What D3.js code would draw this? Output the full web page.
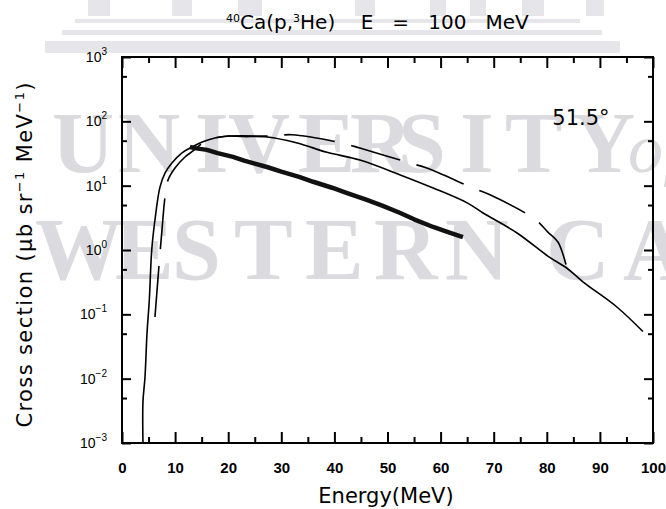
<!DOCTYPE html>
<html><head><meta charset="utf-8">
<script src="https://cdn.jsdelivr.net/npm/d3@7"></script>
<style>body{margin:0;background:#fff}svg{display:block}</style>
</head><body>
<svg id="chart" width="666" height="509"></svg>
<script>
// ---------- data ----------
const xTicks = [0, 10, 20, 30, 40, 50, 60, 70, 80, 90, 100];
const xMinorTicks = [5, 15, 25, 35, 45, 55, 65, 75, 85, 95];
const yTicks = [1e-3, 1e-2, 1e-1, 1e0, 1e1, 1e2, 1e3];
const yTickExponents = ["−3", "−2", "−1", "0", "1", "2", "3"];
const yMinorTicks = [5e-3, 5e-2, 5e-1, 5, 50, 500];

// solid theoretical curve
const solidEnergy = [3.95, 3.95, 4.33, 4.71, 5.14, 5.6, 6.2, 7.15, 8.1, 9.4, 11.3, 13.2, 15.1, 17.5, 20, 22.8, 27.3, 33, 38.6, 44.8, 52.4, 58.6, 65, 68, 74.4, 80.4, 83.8, 86.8, 93.2, 98.1];
const solidCross  = [0.001, 0.0044, 0.0105, 0.051, 0.166, 1.0, 2.9, 9.5, 15.7, 22.5, 32.4, 40, 47.6, 55, 59, 58, 57, 46, 33, 25, 14.7, 9.2, 5.4, 3.76, 1.84, 0.78, 0.52, 0.32, 0.13, 0.054];

// dashed theoretical curve
const dashedEnergy = [6.21, 6.97, 7.53, 8.1, 8.66, 9.98, 11.86, 13.37, 16, 20.3, 28.4, 32, 41.4, 44.8, 54.2, 57.4, 66.1, 69.3, 77.8, 80.2, 82.1, 83.8];
const dashedCross  = [0.091, 0.58, 2.05, 6.7, 12.2, 18.8, 27.9, 34.6, 51, 59, 59, 62, 46, 38.5, 22.5, 18.8, 9.2, 7.2, 3.0, 1.9, 1.33, 0.52];

// experimental data
const dataEnergy = [12.8, 14, 16, 18, 20.9, 23, 25, 27.3, 30, 33.5, 36, 39.7, 42, 46.1, 49, 52.4, 55, 58.6, 61, 64.2];
const dataCross  = [40, 38, 36, 32, 28, 24.5, 22, 19.5, 16.5, 13.6, 11.5, 9.2, 7.9, 6.0, 4.9, 3.76, 3.0, 2.28, 1.95, 1.59];

// ---------- drawing ----------
const svg = d3.select("#chart");
const m = {l: 122, r: 653, t: 57, b: 443};
const x = d3.scaleLinear().domain([0, 100]).range([m.l, m.r]);
const y = d3.scaleLog().domain([1e-3, 1e3]).range([m.b, m.t]);

// faint watermark background (scan artefact)
const wm = svg.append("g").attr("fill", "#e6e6ea");
[[45,41,575,12],[62,30,540,5],[75,19,505,4],[88,0,22,16],[172,0,20,16],[238,0,24,16],[355,0,20,16],[430,0,16,16],[470,0,16,16],[522,0,22,16],[586,0,18,16]]
  .forEach(r => wm.append("rect").attr("x", r[0]).attr("y", r[1]).attr("width", r[2]).attr("height", r[3]));
const wmText = svg.append("g").attr("fill", "#dadadf")
  .style("font-family", "'Liberation Serif', serif").style("font-weight", "bold");
wmText.append("text").attr("x", [52,118,195,228,298,350,398,460,505,573].join(" ")).attr("y", 172)
  .style("font-size", "86px").text("UNIVERSITY");
wmText.append("text").attr("x", 628).attr("y", 172).style("font-size", "70px")
  .style("font-style", "italic").style("font-weight", "normal").text("of");
wmText.append("text").attr("x", [35,115,172,234,305,374,445,530,546,623].join(" ")).attr("y", 279)
  .style("font-size", "88px").text("WESTERN CA");

// axes
function styleAxis(g) {
  g.select(".domain").remove();
  g.selectAll(".tick line").attr("stroke", "#000").attr("stroke-width", 2);
}
svg.append("g").attr("transform", `translate(0,${m.b})`)
  .call(d3.axisBottom(x).tickValues(xTicks).tickSize(-11).tickPadding(19).tickFormat(d3.format("d")))
  .call(styleAxis)
  .call(g => g.selectAll("text").attr("fill", "#000")
    .style("font-family", "'Liberation Sans', Arial, sans-serif").style("font-size", "15px").style("font-weight", "bold"));
svg.append("g").attr("transform", `translate(0,${m.b})`)
  .call(d3.axisBottom(x).tickValues(xMinorTicks).tickSize(-6).tickFormat(""))
  .call(styleAxis);
svg.append("g").attr("transform", `translate(0,${m.t})`)
  .call(d3.axisTop(x).tickValues(xTicks).tickSize(-11).tickFormat(""))
  .call(styleAxis);
svg.append("g").attr("transform", `translate(0,${m.t})`)
  .call(d3.axisTop(x).tickValues(xMinorTicks).tickSize(-6).tickFormat(""))
  .call(styleAxis);
svg.append("g").attr("transform", `translate(${m.l},0)`)
  .call(d3.axisLeft(y).tickValues(yTicks).tickSize(-9).tickFormat(""))
  .call(styleAxis);
svg.append("g").attr("transform", `translate(${m.l},0)`)
  .call(d3.axisLeft(y).tickValues(yMinorTicks).tickSize(-5).tickFormat(""))
  .call(styleAxis);
svg.append("g").attr("transform", `translate(${m.r},0)`)
  .call(d3.axisRight(y).tickValues(yTicks).tickSize(-9).tickFormat(""))
  .call(styleAxis);
svg.append("g").attr("transform", `translate(${m.r},0)`)
  .call(d3.axisRight(y).tickValues(yMinorTicks).tickSize(-5).tickFormat(""))
  .call(styleAxis);

// y tick labels 10^n
const yl = svg.append("g").style("font-family", "'Liberation Sans', Arial, sans-serif").attr("fill", "#000");
yTicks.forEach((v, i) => {
  const t = yl.append("text").attr("text-anchor", "end").attr("x", 107).attr("y", y(v) + 5).style("font-size", "14px");
  t.append("tspan").text("10");
  t.append("tspan").attr("dy", -7).style("font-size", "10px").text(yTickExponents[i]);
});

// frame
svg.append("rect").attr("x", m.l).attr("y", m.t).attr("width", m.r - m.l).attr("height", m.b - m.t)
  .attr("fill", "none").attr("stroke", "#000").attr("stroke-width", 2);

// curves
const line = d3.line().x(d => x(d[0])).y(d => y(d[1])).curve(d3.curveCatmullRom.alpha(0.5));
svg.append("path").datum(d3.zip(solidEnergy, solidCross)).attr("d", line)
  .attr("fill", "none").attr("stroke", "#000").attr("stroke-width", 1.6);
svg.append("path").datum(d3.zip(dashedEnergy, dashedCross)).attr("d", line)
  .attr("fill", "none").attr("stroke", "#000").attr("stroke-width", 1.6).attr("stroke-dasharray", "51,17");
svg.append("path").datum(d3.zip(dataEnergy, dataCross))
  .attr("d", d3.line().x(d => x(d[0])).y(d => y(d[1])))
  .attr("fill", "none").attr("stroke", "#111").attr("stroke-width", 4.5).attr("stroke-linejoin", "round");

// texts
const font = "'DejaVu Sans', Arial, sans-serif";
const title = svg.append("text").attr("x", 226).attr("y", 29)
  .style("font-family", font).style("font-size", "20px").attr("fill", "#000")
  .attr("xml:space", "preserve");
title.append("tspan").attr("dy", -7).style("font-size", "11px").text("40");
title.append("tspan").attr("dy", 7).text("Ca(p,");
title.append("tspan").attr("dy", -7).style("font-size", "11px").text("3");
title.append("tspan").attr("dy", 7).text("He)    E   =   100   MeV");

svg.append("text").attr("x", 581).attr("y", 125).attr("text-anchor", "middle")
  .style("font-family", font).style("font-size", "21px").attr("fill", "#000").text("51.5°");

svg.append("text").attr("x", 386).attr("y", 503).attr("text-anchor", "middle")
  .style("font-family", font).style("font-size", "21px").attr("fill", "#000").text("Energy(MeV)");

const yLab = svg.append("text").attr("transform", "translate(32,255) rotate(-90)").attr("text-anchor", "middle")
  .attr("textLength", 345).attr("lengthAdjust", "spacing")
  .style("font-family", font).style("font-size", "21px").attr("fill", "#000");
yLab.append("tspan").text("Cross section (μb sr");
yLab.append("tspan").attr("dy", -8).style("font-size", "13px").text("−1");
yLab.append("tspan").attr("dy", 8).text(" MeV");
yLab.append("tspan").attr("dy", -8).style("font-size", "13px").text("−1");
yLab.append("tspan").attr("dy", 8).text(")");
</script>
</body></html>
